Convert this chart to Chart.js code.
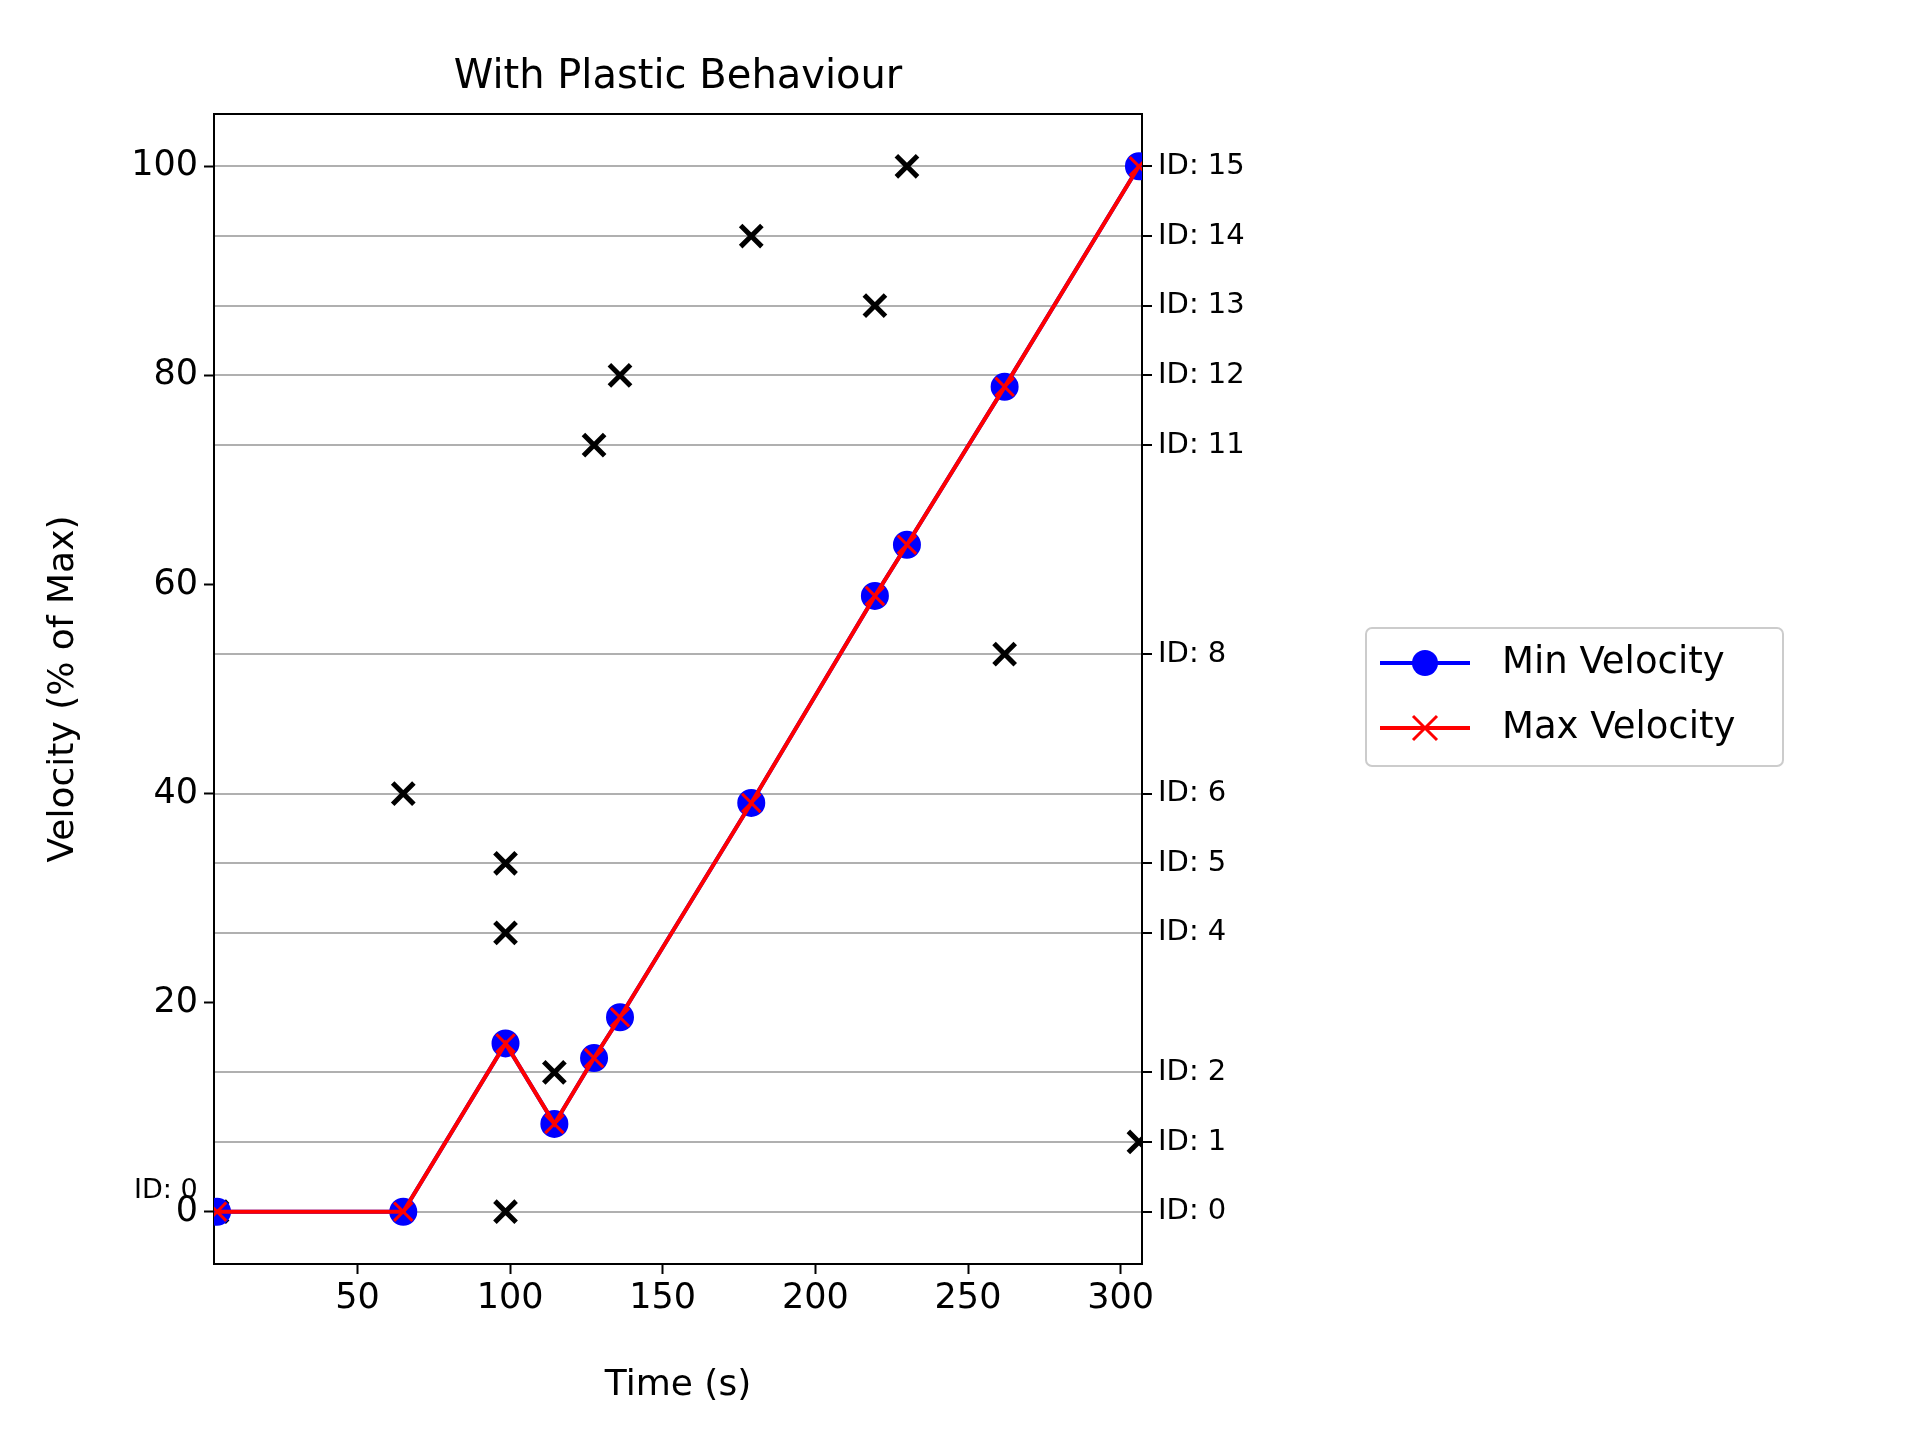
<!DOCTYPE html>
<html><head><meta charset="utf-8">
<script src="https://cdn.jsdelivr.net/npm/chart.js@4"></script>
<style>body{margin:0;background:#fff}</style>
</head><body>
<canvas id="c" width="1920" height="1440"></canvas>
<script>
const times = [4, 65, 98.5, 114.5, 127.5, 136, 179, 219.5, 230, 262, 306];
const minVelocity = [0, 0, 16.1, 8.4, 14.7, 18.6, 39.1, 58.9, 63.8, 78.9, 100];
const maxVelocity = [0, 0, 16.1, 8.4, 14.7, 18.6, 39.1, 58.9, 63.8, 78.9, 100];
const idTimes = [4, 306, 114.5, 98.5, 98.5, 98.5, 65, 262, 127.5, 136, 219.5, 179, 230];
const idLevels = [0, 6.67, 13.33, 0, 26.67, 33.33, 40, 53.33, 73.33, 80, 86.67, 93.33, 100];
const idTicks = [0, 1, 2, 4, 5, 6, 8, 11, 12, 13, 14, 15];

const FONT = 'DejaVu Sans';
const pts = (xs, ys) => xs.map((x, i) => ({x: x, y: ys[i]}));

const extras = {
  id: 'extras',
  afterDraw(chart) {
    const ctx = chart.ctx, a = chart.chartArea;
    ctx.save();
    ctx.strokeStyle = '#000'; ctx.lineWidth = 2;
    ctx.beginPath(); ctx.moveTo(a.left, a.top); ctx.lineTo(a.right, a.top); ctx.stroke();
    ctx.fillStyle = '#000';
    ctx.font = '40px ' + FONT; ctx.textAlign = 'center'; ctx.textBaseline = 'bottom';
    ctx.fillText('With Plastic Behaviour', (a.left + a.right) / 2, a.top - 16);
    // axis titles
    ctx.font = '36px ' + FONT; ctx.textBaseline = 'middle';
    ctx.fillText('Time (s)', (a.left + a.right) / 2, 1386);
    ctx.save();
    ctx.translate(64, (a.top + a.bottom) / 2); ctx.rotate(-Math.PI / 2);
    ctx.fillText('Velocity (% of Max)', 0, 0);
    ctx.restore();
    // stray ID: 0 label
    const sx = chart.scales.x, sy = chart.scales.y;
    ctx.font = '27px ' + FONT; ctx.textAlign = 'left';
    ctx.fillText('ID: 0', 134, sy.getPixelForValue(2));
    // legend
    const lx = 1366, ly = 628, lw = 417, lh = 138;
    ctx.fillStyle = 'rgba(255,255,255,0.8)'; ctx.strokeStyle = '#cccccc'; ctx.lineWidth = 2;
    ctx.beginPath(); ctx.roundRect(lx, ly, lw, lh, 6); ctx.fill(); ctx.stroke();
    ctx.font = '37px ' + FONT; ctx.fillStyle = '#000';
    const rows = [['Min Velocity', 'blue'], ['Max Velocity', 'red']];
    rows.forEach((r, i) => {
      const y = ly + 35 + i * 65;
      ctx.strokeStyle = r[1]; ctx.lineWidth = 4;
      ctx.beginPath(); ctx.moveTo(lx + 14, y); ctx.lineTo(lx + 104, y); ctx.stroke();
      if (i === 0) {
        ctx.fillStyle = 'blue'; ctx.beginPath(); ctx.arc(lx + 59, y, 13, 0, 7); ctx.fill();
      } else {
        ctx.lineWidth = 3;
        ctx.beginPath(); ctx.moveTo(lx + 47, y - 12); ctx.lineTo(lx + 71, y + 12);
        ctx.moveTo(lx + 71, y - 12); ctx.lineTo(lx + 47, y + 12); ctx.stroke();
      }
      ctx.fillStyle = '#000';
      ctx.fillText(r[0], lx + 136, y);
    });
    ctx.restore();
  }
};

new Chart(document.getElementById('c'), {
  type: 'scatter',
  data: {
    datasets: [
      {label: 'IDs', data: pts(idTimes, idLevels), pointStyle: 'cross', rotation: 45,
       radius: 15, borderColor: '#000', backgroundColor: '#000', borderWidth: 5, order: 3},
      {label: 'Max Velocity', data: pts(times, maxVelocity), showLine: true, borderColor: 'red',
       borderWidth: 4, pointStyle: 'cross', rotation: 45, radius: 13, pointBorderWidth: 3,
       backgroundColor: 'red', order: 1},
      {label: 'Min Velocity', data: pts(times, minVelocity), showLine: true, borderColor: 'blue',
       borderWidth: 4, pointStyle: 'circle', radius: 12, backgroundColor: 'blue', order: 2}
    ]
  },
  options: {
    responsive: false, animation: false,
    layout: {padding: {top: 114}},
    plugins: {legend: {display: false}, tooltip: {enabled: false}},
    scales: {
      x: {
        min: 3, max: 307,
        afterBuildTicks: s => { s.ticks = [50, 100, 150, 200, 250, 300].map(v => ({value: v})); },
        afterFit: s => { s.height = 176; },
        grid: {drawOnChartArea: false, color: '#000', tickLength: 10, tickWidth: 2},
        border: {color: '#000', width: 2},
        ticks: {color: '#000', font: {family: FONT, size: 35}, padding: 4}
      },
      y: {
        min: -5, max: 105,
        afterBuildTicks: s => { s.ticks = [0, 20, 40, 60, 80, 100].map(v => ({value: v})); },
        afterFit: s => { s.width = 214; },
        grid: {drawOnChartArea: false, color: '#000', tickLength: 10, tickWidth: 2},
        border: {color: '#000', width: 2},
        ticks: {color: '#000', font: {family: FONT, size: 35}, padding: 6}
      },
      y2: {
        position: 'right', min: -5, max: 105,
        afterBuildTicks: s => { s.ticks = idTicks.map(k => ({value: k * 100 / 15})); },
        afterFit: s => { s.width = 778; },
        grid: {color: '#b0b0b0', lineWidth: 2, tickColor: '#000', tickLength: 10, tickWidth: 2},
        border: {color: '#000', width: 2},
        ticks: {color: '#000', font: {family: FONT, size: 29}, padding: 6,
          callback: v => 'ID: ' + Math.round(v * 15 / 100)}
      }
    }
  },
  plugins: [extras]
});
</script>
</body></html>
